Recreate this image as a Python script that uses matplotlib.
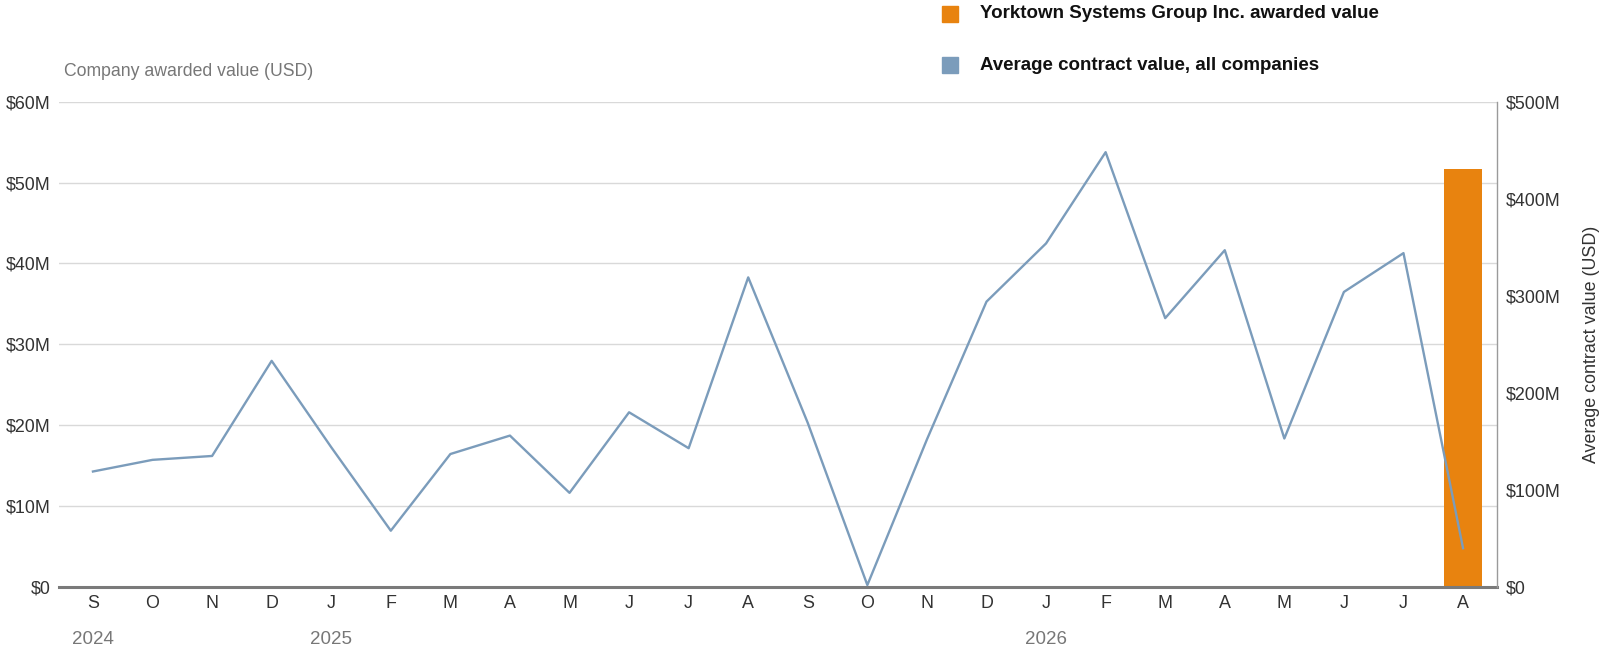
import numpy as np
import matplotlib
matplotlib.use("Agg")
import matplotlib.pyplot as plt
from matplotlib.patches import Rectangle
from matplotlib.transforms import blended_transform_factory

plt.rcParams['font.family'] = ['Liberation Sans', 'DejaVu Sans']

# data, Sep 2024 .. Aug 2026
months = ["S", "O", "N", "D", "J", "F", "M", "A", "M", "J", "J", "A",
          "S", "O", "N", "D", "J", "F", "M", "A", "M", "J", "J", "A"]
years = ["2024", "2025", "2026"]
year_pos = [0, 4, 16]
# average contract value, all companies ($M, right axis)
avg_value = [119, 131, 135, 233, 144, 58, 137, 156, 97, 180, 143, 319,
             169, 2, 152, 294, 354, 448, 277, 347, 153, 304, 344, 40]
# company awarded value ($M, left axis) - only last month
company_value = [0]*23 + [51.7]

orange = "#e8830f"
blue = "#7b9cbb"
grey_txt = "#777777"
dark_txt = "#333333"

fig = plt.figure(figsize=(16.06, 6.56), dpi=100)
ax = fig.add_axes([59/1606, 1-587/656, (1497-59)/1606, (587-101.7)/656])
x = np.arange(len(months))

ax.bar(x, company_value, width=0.65, color=orange, zorder=2)
ax.set_ylim(0, 60)
ax.set_xlim(-0.57, len(months)-1+0.57)
ax.set_yticks(np.arange(0, 61, 10))
ax.set_yticklabels(["$0"] + ["$%dM" % v for v in range(10, 61, 10)])
ax.grid(axis='y', color="#d9d9d9", linewidth=1, zorder=0)
ax.set_axisbelow(True)
ax.set_xticks(x)
ax.set_xticklabels(months)
ax.tick_params(axis='both', length=0, labelsize=12.9, colors=dark_txt)
ax.tick_params(axis='y', pad=6)
ax.tick_params(axis='x', pad=6)
for s in ["left", "top", "right"]:
    ax.spines[s].set_visible(False)
ax.spines["bottom"].set_color("#7a7a7a")
ax.spines["bottom"].set_linewidth(2.2)
ax.spines["bottom"].set_zorder(5)

ax2 = ax.twinx()
ax2.plot(x, avg_value, color=blue, linewidth=1.7, zorder=3)
ax2.set_ylim(0, 500)
ax2.set_yticks(np.arange(0, 501, 100))
ax2.set_yticklabels(["$0"] + ["$%dM" % v for v in range(100, 501, 100)])
ax2.tick_params(axis='y', length=0, labelsize=12.9, colors=dark_txt, pad=6)
for s in ["left", "top", "bottom"]:
    ax2.spines[s].set_visible(False)
ax2.spines["right"].set_color("#9a9a9a")
ax2.spines["right"].set_linewidth(1)

# year labels
tr = blended_transform_factory(ax.transData, fig.transFigure)
for yp, yl in zip(year_pos, years):
    ax.text(yp, 17/656, yl, transform=tr, ha='center', va='center',
            fontsize=13.5, color=grey_txt)

# axis titles
fig.text(64/1606, 1-71/656, "Company awarded value (USD)", ha='left', va='center',
         fontsize=12.7, color=grey_txt)
fig.text(1592/1606, 1-344/656, "Average contract value (USD)", ha='center', va='center',
         rotation=90, fontsize=12.9, color=dark_txt)

# legend
for yc, col, lab in [(14, orange, "Yorktown Systems Group Inc. awarded value"),
                     (65, blue, "Average contract value, all companies")]:
    fig.add_artist(Rectangle((942/1606, 1-(yc+8)/656), 16/1606, 16/656,
                             transform=fig.transFigure, color=col))
    fig.text(980/1606, 1-yc/656, lab, ha='left', va='center', fontsize=13.5,
             fontweight='bold', color="#111111")

fig.savefig("out.png", dpi=100)
